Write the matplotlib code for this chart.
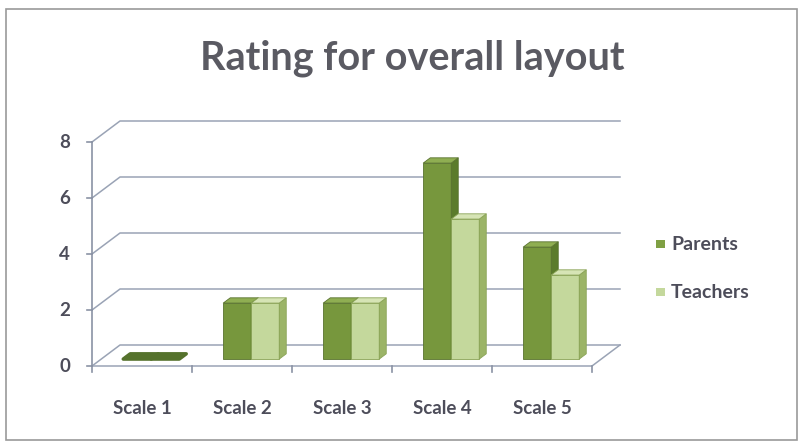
import matplotlib
matplotlib.use('Agg')
import matplotlib.pyplot as plt
from matplotlib.patches import Polygon, Rectangle

categories = ['Scale 1', 'Scale 2', 'Scale 3', 'Scale 4', 'Scale 5']
parents = [0, 2, 2, 7, 4]
teachers = [0, 2, 2, 5, 3]
yticks = [0, 2, 4, 6, 8]

FONT = 'Lato'
TEXT = '#4d4d5a'
GRID = '#9aa3b5'
AXIS = '#8a92a4'

# depth of the fake 3d box, in data units
DX, DY = 0.28, 0.75
FRONT = 0.33   # bars start this far into the depth
DEPTH = 0.25   # bar depth as a fraction of the box depth
BW = 0.28

fig = plt.figure(figsize=(8, 4.44), dpi=100)
ax = fig.add_axes([0, 0, 1, 1])
ax.set_xlim(-0.92, 7.08)
ax.set_ylim(-78 / 28, 366 / 28)
ax.axis('off')

# outer chart border
fig.patches.append(Rectangle((6 / 800, 4 / 444), 791 / 800, 431 / 444,
                             transform=fig.transFigure, fill=False,
                             edgecolor='#9a9a9a', lw=1.2))

ncat = len(categories)
ymax = yticks[-1]

# back wall gridlines + left wall diagonals
for v in yticks:
    ax.plot([0, DX, ncat + DX], [v, v + DY, v + DY], color=GRID, lw=1.1,
            zorder=1)
# floor outline
ax.plot([0, ncat, ncat + DX], [0, 0, DY], color=GRID, lw=1.1, zorder=1)
# front vertical axis and its ticks
ax.plot([0, 0], [0, ymax], color=AXIS, lw=1.2, zorder=1)
for v in yticks:
    ax.plot([-0.05, 0], [v, v], color=AXIS, lw=1.2, zorder=1)
    ax.text(-0.22, v, str(v), ha='right', va='center', fontsize=13.5,
            fontweight='bold', family=FONT, color=TEXT)
for i in range(ncat + 1):
    ax.plot([i, i], [0, -0.22], color=AXIS, lw=1.2, zorder=1)
for i, c in enumerate(categories):
    ax.text(i + 0.5, -1.5, c, ha='center', va='center', fontsize=13.5,
            fontweight='bold', family=FONT, color=TEXT)


def bar3d(x0, h, front, side, top, edge, elw=0.6):
    bx = x0
    by = FRONT * DY
    ddx, ddy = DEPTH * DX, DEPTH * DY
    if h > 0:
        ax.bar(bx, h, bottom=by, width=BW, align='edge', color=front,
               edgecolor=edge, lw=elw, zorder=3)
        ax.add_patch(Polygon([(bx + BW, by), (bx + BW + ddx, by + ddy),
                              (bx + BW + ddx, by + h + ddy), (bx + BW, by + h)],
                             closed=True, facecolor=side, edgecolor=edge,
                             lw=elw, zorder=3))
    ax.add_patch(Polygon([(bx, by + h), (bx + ddx, by + h + ddy),
                          (bx + BW + ddx, by + h + ddy), (bx + BW, by + h)],
                         closed=True, facecolor=top, edgecolor=edge, lw=elw,
                         joinstyle='round', zorder=3))


shift = FRONT * DX
flat = '#55722c'
for i in range(ncat):
    c = i + 0.5 + shift
    if parents[i] > 0:
        bar3d(c - BW, parents[i], '#77973d', '#5b7b2b', '#8fae52', '#5a7330')
    else:
        bar3d(c - BW, 0, flat, flat, flat, flat, elw=2.5)
    if teachers[i] > 0:
        bar3d(c, teachers[i], '#c4d89c', '#9bb467', '#d6e4b5', '#8aa356')
    else:
        bar3d(c, 0, flat, flat, flat, flat, elw=2.5)

# title
fig.text(412 / 800, 1 - 58 / 444, 'Rating for overall layout', ha='center',
         va='center', fontsize=28.5, fontweight='bold', family=FONT,
         color='#5a5a62')

# legend
for lbl, col, yp in [('Parents', '#7fa043', 244), ('Teachers', '#c4d89c', 292)]:
    fig.patches.append(Rectangle((656 / 800, 1 - (yp + 4) / 444), 9 / 800,
                                 8 / 444, transform=fig.transFigure,
                                 facecolor=col, edgecolor='none'))
    fig.text(671 / 800, 1 - yp / 444, lbl, ha='left', va='center',
             fontsize=14, fontweight='bold', family=FONT, color=TEXT)

fig.savefig('out.png', dpi=100)
